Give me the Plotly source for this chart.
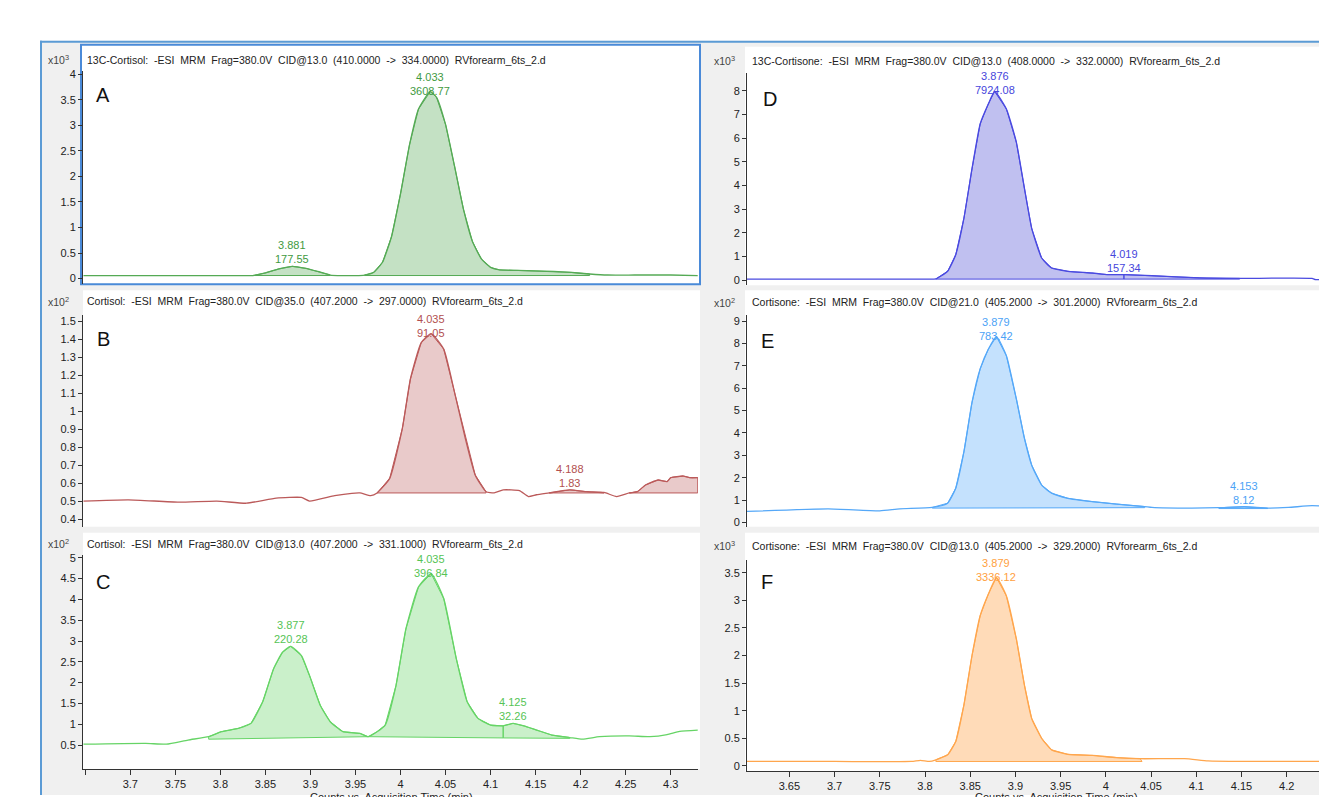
import plotly.graph_objects as go

W, H = 1327, 797
OFF = 8  # default page margin of the written html body
FW, FH = W - OFF, H - OFF

# ---------------- data ----------------
# A: 13C-Cortisol 410 -> 334  (counts x10^3)
a_time = [3.648, 3.70, 3.75, 3.80, 3.836, 3.85, 3.865, 3.880, 3.895, 3.908, 3.922, 3.935, 3.95, 3.96,
          3.97, 3.98, 3.99, 4.00, 4.01, 4.02, 4.033, 4.04, 4.05, 4.06, 4.07, 4.08, 4.09, 4.10, 4.11,
          4.13, 4.15, 4.17, 4.19, 4.21, 4.23, 4.26, 4.30, 4.33]
a_counts = [0.06, 0.06, 0.06, 0.06, 0.06, 0.11, 0.19, 0.24, 0.20, 0.14, 0.07, 0.06, 0.06, 0.07,
            0.12, 0.32, 0.82, 1.66, 2.62, 3.32, 3.66, 3.55, 3.02, 2.20, 1.35, 0.72, 0.38, 0.22, 0.17,
            0.16, 0.15, 0.14, 0.12, 0.09, 0.07, 0.07, 0.07, 0.06]
a_peaks = [(3.836, 3.922, 0.06, 0.06), (3.96, 4.21, 0.06, 0.06)]
a_labels = [("3.881", "177.55"), ("4.033", "3608.77")]

# B: Cortisol 407.2 -> 297 (counts x10^2)
b_time = [3.648, 3.698, 3.754, 3.796, 3.829, 3.862, 3.890, 3.899, 3.927, 3.946, 3.955, 3.967, 3.974,
          3.988, 4.002, 4.011, 4.023, 4.034, 4.048, 4.060, 4.072, 4.083, 4.095, 4.104, 4.114, 4.132,
          4.142, 4.151, 4.165, 4.188, 4.207, 4.226, 4.240, 4.254, 4.263, 4.272, 4.286, 4.296, 4.300,
          4.314, 4.321, 4.330]
b_counts = [0.50, 0.507, 0.494, 0.50, 0.488, 0.516, 0.52, 0.50, 0.53, 0.543, 0.545, 0.53, 0.545,
            0.626, 0.902, 1.178, 1.38, 1.43, 1.344, 1.104, 0.847, 0.644, 0.552, 0.545, 0.562, 0.558,
            0.525, 0.535, 0.545, 0.562, 0.552, 0.548, 0.525, 0.545, 0.552, 0.589, 0.617, 0.608, 0.63,
            0.639, 0.63, 0.63]
b_peaks = [(3.974, 4.095, 0.545, 0.545), (4.165, 4.226, 0.545, 0.545), (4.254, 4.330, 0.545, 0.545)]
b_labels = [("4.035", "91.05"), ("4.188", "1.83"), None]

# C: Cortisol 407.2 -> 331.1 (counts x10^2)
c_time = [3.648, 3.717, 3.740, 3.764, 3.787, 3.801, 3.820, 3.834, 3.847, 3.859, 3.869, 3.878, 3.890,
          3.899, 3.911, 3.922, 3.936, 3.955, 3.964, 3.974, 3.983, 3.995, 4.006, 4.020, 4.034, 4.048,
          4.062, 4.074, 4.086, 4.100, 4.114, 4.125, 4.137, 4.151, 4.168, 4.188, 4.202, 4.221, 4.254,
          4.277, 4.296, 4.310, 4.330]
c_counts = [0.52, 0.54, 0.52, 0.62, 0.70, 0.82, 0.90, 1.02, 1.54, 2.33, 2.73, 2.87, 2.65,
            2.17, 1.45, 1.06, 0.82, 0.78, 0.70, 0.82, 0.98, 1.93, 3.29, 4.30, 4.62, 4.02,
            2.57, 1.54, 1.14, 0.98, 0.96, 1.02, 0.96, 0.86, 0.74, 0.68, 0.64, 0.70, 0.72,
            0.70, 0.75, 0.83, 0.86]
c_peaks = [(3.787, 3.964, 0.64, 0.70), (3.964, 4.114, 0.70, 0.67), (4.114, 4.188, 0.67, 0.66)]
c_labels = [("3.877", "220.28"), ("4.035", "396.84"), ("4.125", "32.26")]

# D: 13C-Cortisone 408 -> 332 (counts x10^3)
d_time = [3.603, 3.70, 3.80, 3.812, 3.825, 3.834, 3.843, 3.852, 3.861, 3.870, 3.877, 3.890, 3.901,
          3.910, 3.918, 3.929, 3.940, 3.958, 3.985, 4.002, 4.020, 4.051, 4.104, 4.148, 4.228, 4.232,
          4.245]
d_counts = [0.05, 0.05, 0.05, 0.06, 0.38, 1.08, 2.61, 4.71, 6.60, 7.44, 7.97, 7.23, 5.83,
            3.87, 2.19, 0.94, 0.52, 0.38, 0.31, 0.24, 0.24, 0.20, 0.10, 0.08, 0.08, 0.03,
            0.03]
d_peaks = [(3.812, 4.020, 0.05, 0.05), (4.020, 4.148, 0.05, 0.05)]
d_labels = [("3.876", "7924.08"), ("4.019", "157.34")]

# E: Cortisone 405.2 -> 301.2 (counts x10^2)
e_time = [3.603, 3.693, 3.750, 3.772, 3.808, 3.825, 3.834, 3.843, 3.852, 3.861, 3.870, 3.879, 3.890,
          3.901, 3.910, 3.918, 3.929, 3.940, 3.958, 3.985, 4.012, 4.043, 4.051, 4.095, 4.125, 4.153,
          4.179, 4.202, 4.228, 4.245]
e_counts = [0.49, 0.61, 0.52, 0.61, 0.67, 0.86, 1.53, 3.15, 5.37, 6.86, 7.74, 8.30, 7.45,
            5.52, 3.75, 2.56, 1.67, 1.31, 1.08, 0.93, 0.82, 0.71, 0.67, 0.64, 0.66, 0.70,
            0.64, 0.67, 0.75, 0.71]
e_peaks = [(3.808, 4.043, 0.64, 0.66), (4.125, 4.179, 0.62, 0.62)]
e_labels = [("3.879", "783.42"), ("4.153", "8.12")]

# F: Cortisone 405.2 -> 329.2 (counts x10^3)
f_time = [3.603, 3.70, 3.785, 3.795, 3.805, 3.812, 3.825, 3.834, 3.843, 3.852, 3.861, 3.870, 3.879,
          3.890, 3.901, 3.910, 3.918, 3.929, 3.940, 3.958, 3.985, 4.012, 4.038, 4.087, 4.113, 4.15,
          4.245]
f_counts = [0.08, 0.08, 0.08, 0.10, 0.08, 0.11, 0.20, 0.44, 1.10, 2.00, 2.72, 3.11, 3.41,
            3.08, 2.30, 1.46, 0.86, 0.50, 0.29, 0.21, 0.19, 0.15, 0.13, 0.13, 0.09, 0.08,
            0.08]
f_peaks = [(3.812, 4.040, 0.08, 0.08)]
f_labels = [("3.879", "3336.12")]

titles = [
    "13C-Cortisol:  -ESI  MRM  Frag=380.0V  CID@13.0  (410.0000  ->  334.0000)  RVforearm_6ts_2.d",
    "Cortisol:  -ESI  MRM  Frag=380.0V  CID@35.0  (407.2000  ->  297.0000)  RVforearm_6ts_2.d",
    "Cortisol:  -ESI  MRM  Frag=380.0V  CID@13.0  (407.2000  ->  331.1000)  RVforearm_6ts_2.d",
    "13C-Cortisone:  -ESI  MRM  Frag=380.0V  CID@13.0  (408.0000  ->  332.0000)  RVforearm_6ts_2.d",
    "Cortisone:  -ESI  MRM  Frag=380.0V  CID@21.0  (405.2000  ->  301.2000)  RVforearm_6ts_2.d",
    "Cortisone:  -ESI  MRM  Frag=380.0V  CID@13.0  (405.2000  ->  329.2000)  RVforearm_6ts_2.d",
]
letters = ["A", "B", "C", "D", "E", "F"]
exponents = ["3", "2", "2", "3", "2", "3"]

a_yticks = [0, 0.5, 1, 1.5, 2, 2.5, 3, 3.5, 4]
b_yticks = [0.4, 0.5, 0.6, 0.7, 0.8, 0.9, 1, 1.1, 1.2, 1.3, 1.4, 1.5]
c_yticks = [0.5, 1, 1.5, 2, 2.5, 3, 3.5, 4, 4.5, 5]
d_yticks = [0, 1, 2, 3, 4, 5, 6, 7, 8]
e_yticks = [0, 1, 2, 3, 4, 5, 6, 7, 8, 9]
f_yticks = [0, 0.5, 1, 1.5, 2, 2.5, 3, 3.5]

left_xticks = [3.7, 3.75, 3.8, 3.85, 3.9, 3.95, 4, 4.05, 4.1, 4.15, 4.2, 4.25, 4.3]
left_xticktext = ["3.7", "3.75", "3.8", "3.85", "3.9", "3.95", "4", "4.05", "4.1", "4.15",
                  "4.2", "4.25", "4.3"]
left_edge_tick = [3.65]
right_xticks = [3.65, 3.7, 3.75, 3.8, 3.85, 3.9, 3.95, 4, 4.05, 4.1, 4.15, 4.2]
right_xticktext = ["3.65", "3.7", "3.75", "3.8", "3.85", "3.9", "3.95", "4", "4.05", "4.1",
                   "4.15", "4.2"]
x_title = "Counts vs. Acquisition Time (min)"

# ---------------- layout / style ----------------
FONT = "Liberation Sans, Arial, sans-serif"
AX = "#333333"


def px_x(p):
    return (p - OFF) / FW


def px_y(p):
    return 1 - (p - OFF) / FH


def cal_range(v1, p1, v2, p2, pa, pb):
    s = (v2 - v1) / (p2 - p1)
    return [v1 + (pa - p1) * s, v1 + (pb - p1) * s]


LEFT_X = (83, 698)
RIGHT_X = (747, 1327)
left_xrange = cal_range(4.0, 400.5, 4.3, 670.7, LEFT_X[0], LEFT_X[1])
right_xrange = cal_range(3.8, 925.0, 4.2, 1286.7, RIGHT_X[0], RIGHT_X[1])

panels = [
    dict(t=a_time, v=a_counts, pk=a_peaks, lb=a_labels, yt=a_yticks, col=0, dy=(68, 283),
         ycal=(4, 71.7, 0, 277.3), bg=(81, 42, 700, 283), hdr=57, let=(103, 93),
         line="#55aa55", fill="rgba(85,170,85,0.35)", txt="#3f9a3f"),
    dict(t=b_time, v=b_counts, pk=b_peaks, lb=b_labels, yt=b_yticks, col=0, dy=(314, 527),
         ycal=(1.5, 320, 0.4, 519.3), bg=(83, 289, 700, 527), hdr=300, let=(103, 338),
         line="#bb5a5a", fill="rgba(187,90,90,0.32)", txt="#b24f4f"),
    dict(t=c_time, v=c_counts, pk=c_peaks, lb=c_labels, yt=c_yticks, col=0, dy=(555, 771),
         ycal=(5, 558.3, 0.5, 746.7), bg=(83, 533, 700, 771), hdr=544, let=(103, 583),
         line="#66d466", fill="rgba(102,212,102,0.35)", txt="#55c455"),
    dict(t=d_time, v=d_counts, pk=d_peaks, lb=d_labels, yt=d_yticks, col=1, dy=(70, 284),
         ycal=(8, 88.3, 0, 279), bg=(745, 44, 1327, 284), hdr=58, let=(770, 97),
         line="#4a4ae0", fill="rgba(90,90,215,0.38)", txt="#4646dc"),
    dict(t=e_time, v=e_counts, pk=e_peaks, lb=e_labels, yt=e_yticks, col=1, dy=(314, 527),
         ycal=(9, 320, 0, 522.7), bg=(745, 289, 1327, 527), hdr=301, let=(767, 340),
         line="#55a8f8", fill="rgba(85,168,248,0.35)", txt="#4ba2f6"),
    dict(t=f_time, v=f_counts, pk=f_peaks, lb=f_labels, yt=f_yticks, col=1, dy=(560, 773),
         ycal=(3.5, 573.3, 0, 767.7), bg=(745, 533, 1327, 773), hdr=546, let=(767, 583),
         line="#ffa64d", fill="rgba(255,166,77,0.40)", txt="#ffa040"),
]

fig = go.Figure()

shapes = [
    # window background
    dict(type="rect", xref="paper", yref="paper", x0=px_x(40), x1=1, y0=0, y1=px_y(38),
         fillcolor="#f0f0f0", line=dict(width=0), layer="below"),
    dict(type="line", xref="paper", yref="paper", x0=px_x(40), x1=1, y0=px_y(39), y1=px_y(39),
         line=dict(color="#5b9bd5", width=2), layer="below"),
    dict(type="line", xref="paper", yref="paper", x0=px_x(41), x1=px_x(41), y0=0, y1=px_y(38),
         line=dict(color="#5b9bd5", width=2), layer="below"),
]
annotations = []

for i, p in enumerate(panels):
    n = "" if i == 0 else str(i + 1)
    xa, ya = "x" + n, "y" + n
    x0, y0, x1, y1 = p["bg"]
    shapes.append(dict(type="rect", xref="paper", yref="paper", x0=px_x(x0), x1=px_x(x1),
                       y0=px_y(y1), y1=px_y(y0), fillcolor="white", line=dict(width=0),
                       layer="below"))
    if i == 0:
        shapes.append(dict(type="rect", xref="paper", yref="paper", x0=px_x(x0), x1=px_x(x1),
                           y0=px_y(y1), y1=px_y(y0), fillcolor="rgba(0,0,0,0)",
                           line=dict(color="#4a8ad8", width=2), layer="below"))

    xdom_px = LEFT_X if p["col"] == 0 else RIGHT_X
    xrange = left_xrange if p["col"] == 0 else right_xrange
    yr = cal_range(p["ycal"][0], p["ycal"][1], p["ycal"][2], p["ycal"][3], p["dy"][1], p["dy"][0])
    t, v = p["t"], p["v"]

    # integrated peak areas
    for (ts, te, bs, be) in p["pk"]:
        seg = [(tt, vv) for tt, vv in zip(t, v) if ts - 1e-9 <= tt <= te + 1e-9]
        px = [s[0] for s in seg] + [te, ts, seg[0][0]]
        py = [s[1] for s in seg] + [be, bs, seg[0][1]]
        fig.add_trace(go.Scatter(x=px, y=py, xaxis=xa, yaxis=ya, mode="lines", fill="toself",
                                 fillcolor=p["fill"], line=dict(color=p["line"], width=1),
                                 hoverinfo="skip", showlegend=False))
    # chromatogram
    fig.add_trace(go.Scatter(x=t, y=v, xaxis=xa, yaxis=ya, mode="lines",
                             line=dict(color=p["line"], width=1.3, shape="spline", smoothing=0.5),
                             showlegend=False))

    # peak labels at apex
    vmax = max(v)
    for (ts, te, bs, be), lab in zip(p["pk"], p["lb"]):
        if lab is None:
            continue
        seg = [(tt, vv) for tt, vv in zip(t, v) if ts - 1e-9 <= tt <= te + 1e-9]
        at, av = max(seg, key=lambda s: s[1])
        annotations.append(dict(x=at, y=av, xref=xa, yref=ya, xanchor="center", yanchor="bottom",
                                text=lab[0] + "<br>" + lab[1], showarrow=False,
                                yshift=-7 if av == vmax else -1,
                                font=dict(family=FONT, size=11, color=p["txt"])))

    is_bottom = i in (2, 5)
    xax = dict(domain=[px_x(xdom_px[0]), px_x(xdom_px[1])], range=xrange,
               anchor=ya, showgrid=False, zeroline=False,
               showline=is_bottom, linecolor=AX, linewidth=1,
               ticks="outside" if is_bottom else "", ticklen=5, tickcolor=AX,
               showticklabels=is_bottom,
               tickfont=dict(family=FONT, size=11, color="#222"))
    if is_bottom:
        if p["col"] == 0:
            xax.update(tickvals=left_xticks, ticktext=left_xticktext,
                       minor=dict(tickvals=left_edge_tick, ticks="outside", ticklen=5,
                                  tickcolor=AX))
        else:
            xax.update(tickvals=right_xticks, ticktext=right_xticktext)
    fig.update_layout(**{
        ("xaxis" + n): xax,
        ("yaxis" + n): dict(domain=[px_y(p["dy"][1]), px_y(p["dy"][0])], range=yr,
                            anchor=xa, showgrid=False, zeroline=False, showline=True,
                            linecolor=AX, linewidth=1, ticks="outside", ticklen=4,
                            tickcolor=AX, tickvals=p["yt"],
                            tickfont=dict(family=FONT, size=11, color="#222")),
    })

    # header, exponent and panel letter
    hx = 85 if p["col"] == 0 else 750
    ex = 46 if p["col"] == 0 else 712
    annotations.append(dict(x=px_x(hx), y=px_y(p["hdr"]), xref="paper", yref="paper",
                            xanchor="left", yanchor="middle", showarrow=False,
                            text=titles[i].replace("  ", " \u00a0"),
                            font=dict(family=FONT, size=10.5, color="#222")))
    annotations.append(dict(x=px_x(ex), y=px_y(p["hdr"]), xref="paper", yref="paper",
                            xanchor="left", yanchor="middle", showarrow=False,
                            text="x10<sup>" + exponents[i] + "</sup>",
                            font=dict(family=FONT, size=10.5, color="#444")))
    annotations.append(dict(x=px_x(p["let"][0]), y=px_y(p["let"][1]), xref="paper",
                            yref="paper", xanchor="center", yanchor="middle", showarrow=False,
                            text=letters[i], font=dict(family=FONT, size=20, color="#111")))

# x-axis titles (cut at the bottom edge, as in the screenshot)
for cx in (391, 1056):
    annotations.append(dict(x=px_x(cx), y=px_y(791), xref="paper", yref="paper",
                            xanchor="center", yanchor="top", showarrow=False, text=x_title,
                            font=dict(family=FONT, size=11, color="#222")))

fig.update_layout(width=FW, height=FH, margin=dict(l=0, r=0, t=0, b=0),
                  paper_bgcolor="white", plot_bgcolor="rgba(0,0,0,0)",
                  shapes=shapes, annotations=annotations, showlegend=False)

fig.write_html("out.html")
